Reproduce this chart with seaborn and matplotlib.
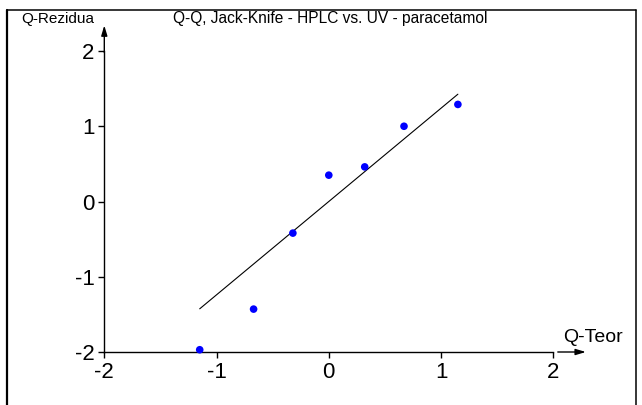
import matplotlib
matplotlib.use("Agg")
import matplotlib.pyplot as plt
from matplotlib.lines import Line2D
import seaborn as sns
import pandas as pd

# Q-Q plot data: theoretical normal quantiles vs. jack-knife residual quantiles
q_teor = [-1.15, -0.67, -0.32, 0.0, 0.32, 0.67, 1.15]
q_rezidua = [-1.97, -1.43, -0.42, 0.35, 0.46, 1.00, 1.29]

# reference line through the points
line_x = [-1.15, 1.15]
line_slope = 1.24

title = "Q-Q, Jack-Knife - HPLC vs. UV - paracetamol"
x_label = "Q-Teor"
y_label = "Q-Rezidua"
ticks = [-2, -1, 0, 1, 2]

sns.set_theme(style="white")
plt.rcParams["font.family"] = ["Liberation Sans", "DejaVu Sans"]

W, H = 642, 405
fig = plt.figure(figsize=(W / 100, H / 100), dpi=100)
fig.patch.set_facecolor("white")

# axes placed so that -2..2 spans the drawn axis lines
x0, x1 = 104.3, 553.3
y_top, y_bot = 51.0, 352.0
ax = fig.add_axes([x0 / W, (H - y_bot) / H, (x1 - x0) / W, (y_bot - y_top) / H])
ax.set_facecolor("white")

df = pd.DataFrame({"Q-Teor": q_teor, "Q-Rezidua": q_rezidua})
ldf = pd.DataFrame({"x": line_x, "y": [line_slope * v for v in line_x]})

sns.lineplot(data=ldf, x="x", y="y", ax=ax, color="black", linewidth=0.8)
sns.scatterplot(data=df, x="Q-Teor", y="Q-Rezidua", ax=ax, color="#0000ff",
                s=30, edgecolor="none", zorder=3, clip_on=False)

ax.set_xlim(-2, 2)
ax.set_ylim(-2, 2)
ax.set_xticks(ticks)
ax.set_yticks(ticks)
ax.set_xticklabels([str(t) for t in ticks])
ax.set_yticklabels([str(t) for t in ticks])
ax.set_xlabel("")
ax.set_ylabel("")

for side in ("top", "right"):
    ax.spines[side].set_visible(False)
for side in ("left", "bottom"):
    ax.spines[side].set_color("black")
    ax.spines[side].set_linewidth(1.0)

ax.tick_params(axis="both", which="major", direction="out", length=4.5, width=1.0,
               color="black", labelsize=16, labelcolor="black", pad=2.5,
               bottom=True, left=True)

# axis arrows
ax.annotate("", xy=(-2.0, 2.34), xytext=(-2.0, 1.98), xycoords="data",
            annotation_clip=False,
            arrowprops=dict(arrowstyle="-|>,head_length=0.5,head_width=0.15",
                            color="black", lw=1.0, shrinkA=0, shrinkB=0))
ax.annotate("", xy=(2.29, -2.0), xytext=(2.04, -2.0), xycoords="data",
            annotation_clip=False,
            arrowprops=dict(arrowstyle="-|>,head_length=0.5,head_width=0.15",
                            color="black", lw=1.0, shrinkA=0, shrinkB=0))

# texts
fig.text(330 / W, 1 - 18.5 / H, title, ha="center", va="center", fontsize=11.2,
         color="black")
fig.text(21 / W, 1 - 18.5 / H, y_label, ha="left", va="center", fontsize=11,
         color="black")
fig.text(563 / W, 1 - 338 / H, x_label, ha="left", va="center", fontsize=14,
         color="black")

# outer frame
def px_line(xs, ys, lw):
    fig.add_artist(Line2D([x / W for x in xs], [1 - y / H for y in ys],
                          transform=fig.transFigure, color="black", linewidth=lw))

px_line([7, 7], [10, 405], 1.6)
px_line([7, 636], [10, 10], 1.1)
px_line([636, 636], [10, 405], 1.1)

fig.savefig("out.png", dpi=100, facecolor="white")
